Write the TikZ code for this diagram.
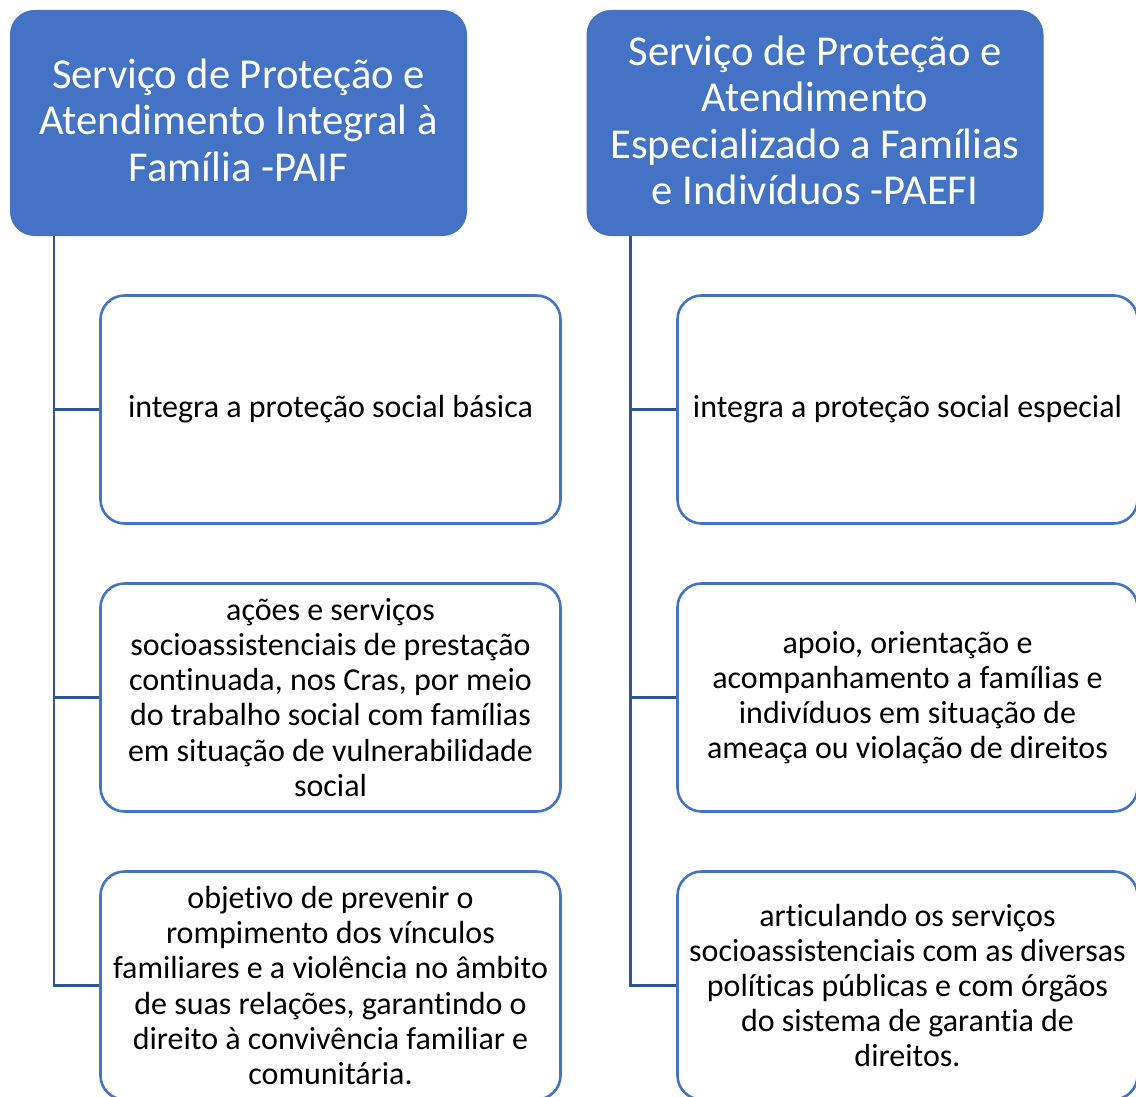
\documentclass[tikz,border=0pt]{standalone}
\usepackage{fontspec}
\setmainfont{Carlito}[Ligatures=NoCommon]
\definecolor{hdrblue}{HTML}{4472C4}
\definecolor{connblue}{HTML}{2F5597}
\newcommand{\lowpad}{\rule[-6pt]{0pt}{6pt}}
\begin{document}
\begin{tikzpicture}[x=1pt,y=-1pt,
  header/.style={draw=hdrblue,fill=hdrblue,rounded corners=24pt,line width=1pt,
    minimum width=456pt,minimum height=225pt,inner sep=0pt,align=center,
    text=white,font=\fontsize{42.6}{46.5}\selectfont},
  child/.style={draw=hdrblue,fill=white,rounded corners=24pt,line width=2.6pt,
    minimum width=460pt,minimum height=228pt,inner sep=0pt,align=center,
    text=black,font=\fontsize{32}{35.2}\selectfont},
  conn/.style={draw=connblue,line width=2.6pt}]
\useasboundingbox (0,0) rectangle (1136,1097);
\clip (0,0) rectangle (1136,1097);
\node[header] (h1) at (238.5,123) {Serviço de Proteção e\\Atendimento Integral à\\Família -PAIF\lowpad};
\node[header] (h2) at (815,123) {Serviço de Proteção e\\Atendimento\\Especializado a Famílias\\e Indivíduos -PAEFI\lowpad};
\node[child] (l1) at (330.5,409.5) {integra a proteção social básica};
\node[child] (l2) at (330.5,697.5) {ações e serviços\\socioassistenciais de prestação\\continuada, nos Cras, por meio\\do trabalho social com famílias\\em situação de vulnerabilidade\\social};
\node[child] (l3) at (330.5,985.5) {objetivo de prevenir o\\rompimento dos vínculos\\familiares e a violência no âmbito\\de suas relações, garantindo o\\direito à convivência familiar e\\comunitária.};
\node[child] (r1) at (907.5,409.5) {integra a proteção social especial};
\node[child] (r2) at (907.5,697.5) {apoio, orientação e\\acompanhamento a famílias e\\indivíduos em situação de\\ameaça ou violação de direitos};
\node[child] (r3) at (907.5,985.5) {articulando os serviços\\socioassistenciais com as diversas\\políticas públicas e com órgãos\\do sistema de garantia de\\direitos.};
\coordinate (t1) at ([xshift=44pt]h1.south west);
\coordinate (t2) at ([xshift=44pt]h2.south west);
\foreach \c in {l1,l2,l3} \draw[conn] (t1) |- (\c.west);
\foreach \c in {r1,r2,r3} \draw[conn] (t2) |- (\c.west);
\end{tikzpicture}
\end{document}
